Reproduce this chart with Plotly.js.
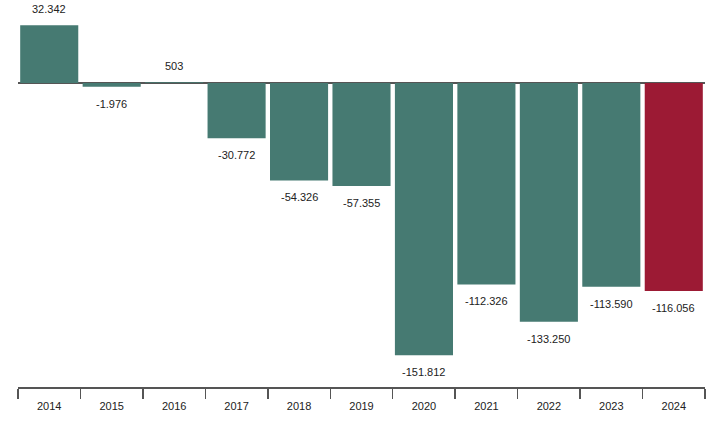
<!DOCTYPE html>
<html>
<head>
<meta charset="utf-8">
<script src="https://cdn.plot.ly/plotly-3.0.1.min.js"></script>
<style>html,body{margin:0;padding:0;background:#fff;}#chart{width:725px;height:429px;}</style>
</head>
<body>
<div id="chart"></div>
<script>
const years = ['2014','2015','2016','2017','2018','2019','2020','2021','2022','2023','2024'];
const values = [32.342, -1.976, 0.503, -30.772, -54.326, -57.355, -151.812, -112.326, -133.250, -113.590, -116.056];
const labels = ['32.342','-1.976','503','-30.772','-54.326','-57.355','-151.812','-112.326','-133.250','-113.590','-116.056'];
const teal = '#467a72';
const red = '#9c1a34';
const colors = years.map((y, i) => i === years.length - 1 ? red : teal);

const trace = {
  type: 'bar',
  x: years,
  y: values,
  marker: {color: colors, line: {width: 0}},
  hoverinfo: 'skip'
};

const annotations = years.map((y, i) => ({
  x: i,
  y: values[i],
  xref: 'x',
  yref: 'y',
  text: labels[i],
  showarrow: false,
  yshift: values[i] >= 0 ? 16 : -17,
  font: {family: 'Liberation Sans, Arial, sans-serif', size: 11, color: '#222'}
}));

const layout = {
  width: 725,
  height: 429,
  margin: {l: 18, r: 20, t: 10, b: 42},
  paper_bgcolor: '#fff',
  plot_bgcolor: '#fff',
  bargap: 0.07,
  showlegend: false,
  xaxis: {
    type: 'category',
    range: [-0.5, years.length - 0.5],
    showline: true,
    linecolor: '#555',
    linewidth: 1.5,
    ticks: 'outside',
    tickson: 'boundaries',
    ticklen: 10,
    tickwidth: 1.5,
    tickcolor: '#555',
    ticklabelstandoff: 8,
    showgrid: false,
    tickangle: 0,
    tickfont: {family: 'Liberation Sans, Arial, sans-serif', size: 11, color: '#222'},
    fixedrange: true
  },
  yaxis: {
    range: [-169.6, 40.8],
    showgrid: false,
    showticklabels: false,
    zeroline: true,
    zerolinecolor: '#555',
    zerolinewidth: 2,
    showline: false,
    ticks: '',
    fixedrange: true
  },
  annotations: annotations
};

Plotly.newPlot('chart', [trace], layout, {displayModeBar: false, staticPlot: true});
</script>
</body>
</html>
